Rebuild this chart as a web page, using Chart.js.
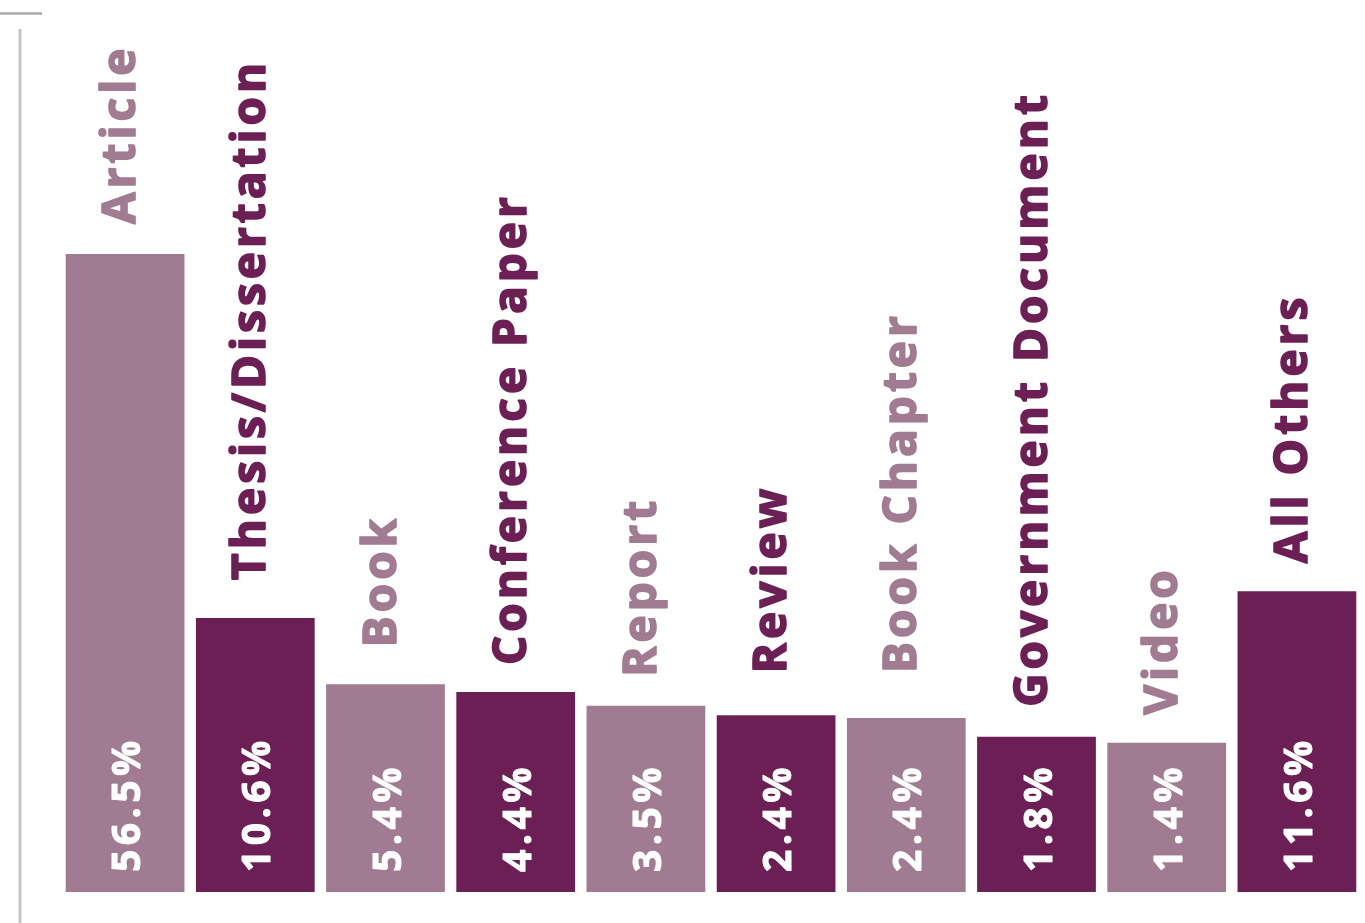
<!DOCTYPE html>
<html>
<head>
<meta charset="utf-8">
<script src="https://cdn.jsdelivr.net/npm/chart.js@4"></script>
<style>
  html, body { margin: 0; padding: 0; background: #fff; overflow: hidden; }
  #wrap { position: relative; width: 1365px; height: 923px; }
</style>
</head>
<body>
<div id="wrap"><canvas id="typeChart"></canvas></div>
<script>
// document types shown above each bar
const docTypes = ['Article', 'Thesis/Dissertation', 'Book', 'Conference Paper', 'Report',
                  'Review', 'Book Chapter', 'Government Document', 'Video', 'All Others'];
// share printed inside each bar (%)
const shares = [56.5, 10.6, 5.4, 4.4, 3.5, 2.4, 2.4, 1.8, 1.4, 11.6];
// drawn bar heights (bars are not to scale with the shares)
const barHeights = [74.0, 31.8, 24.1, 23.2, 21.6, 20.5, 20.2, 18.0, 17.3, 34.9];

const LIGHT = '#a07b91';
const DARK = '#6b1f54';
const barColors = docTypes.map((d, i) => (i % 2 === 0 && i !== 9) ? LIGHT : DARK);
// space between bar top and the start of its label (px)
const labelGaps = [30, 38, 37, 27, 29, 42, 45, 30, 28, 28];

// 装飾の線（左の縦線と上の短い横線）
const decorPlugin = {
    id: 'decor',
    beforeDraw(chart) {
        const ctx = chart.ctx;
        ctx.save();
        ctx.strokeStyle = '#c4c4c4';
        ctx.lineWidth = 3;
        ctx.beginPath();
        ctx.moveTo(20, 29);
        ctx.lineTo(20, chart.height);
        ctx.stroke();
        ctx.strokeStyle = '#a9a9a9';
        ctx.lineWidth = 2.5;
        ctx.beginPath();
        ctx.moveTo(0, 13.5);
        ctx.lineTo(42, 13.5);
        ctx.stroke();
        ctx.restore();
    }
};

function drawUp(ctx, text, x, y, font, spacing, color, weight) {
    ctx.save();
    ctx.translate(x, y);
    ctx.rotate(-Math.PI / 2);
    ctx.font = font;
    ctx.letterSpacing = spacing;
    ctx.fillStyle = color;
    ctx.strokeStyle = color;
    ctx.lineWidth = weight;
    ctx.lineJoin = 'round';
    ctx.textAlign = 'left';
    ctx.textBaseline = 'alphabetic';
    ctx.strokeText(text, 0, 0);
    ctx.fillText(text, 0, 0);
    ctx.restore();
}

// 縦書きラベル（上：種類、中：割合）
const labelPlugin = {
    id: 'barLabels',
    afterDatasetsDraw(chart) {
        const ctx = chart.ctx;
        const meta = chart.getDatasetMeta(0);
        meta.data.forEach((bar, i) => {
            drawUp(ctx, docTypes[i], bar.x + 10, bar.y - labelGaps[i],
                   'bold 46px "Open Sans"', '4px', barColors[i], 1.6);
            drawUp(ctx, shares[i].toFixed(1) + '%', bar.x + 15, bar.base - 20,
                   'bold 39px "Open Sans"', '4.5px', '#ffffff', 1.0);
        });
    }
};

new Chart(document.getElementById('typeChart'), {
    type: 'bar',
    data: {
        labels: docTypes,
        datasets: [{
            data: barHeights,
            backgroundColor: barColors,
            borderWidth: 0,
            barPercentage: 0.912,
            categoryPercentage: 1.0
        }]
    },
    options: {
        responsive: true,
        maintainAspectRatio: false,
        animation: false,
        layout: { padding: { left: 60, right: 3, top: 30, bottom: 31 } },
        plugins: { legend: { display: false }, tooltip: { enabled: false } },
        scales: {
            x: { display: false },
            y: { display: false, min: 0, max: 100 }
        }
    },
    plugins: [decorPlugin, labelPlugin]
});
</script>
</body>
</html>
